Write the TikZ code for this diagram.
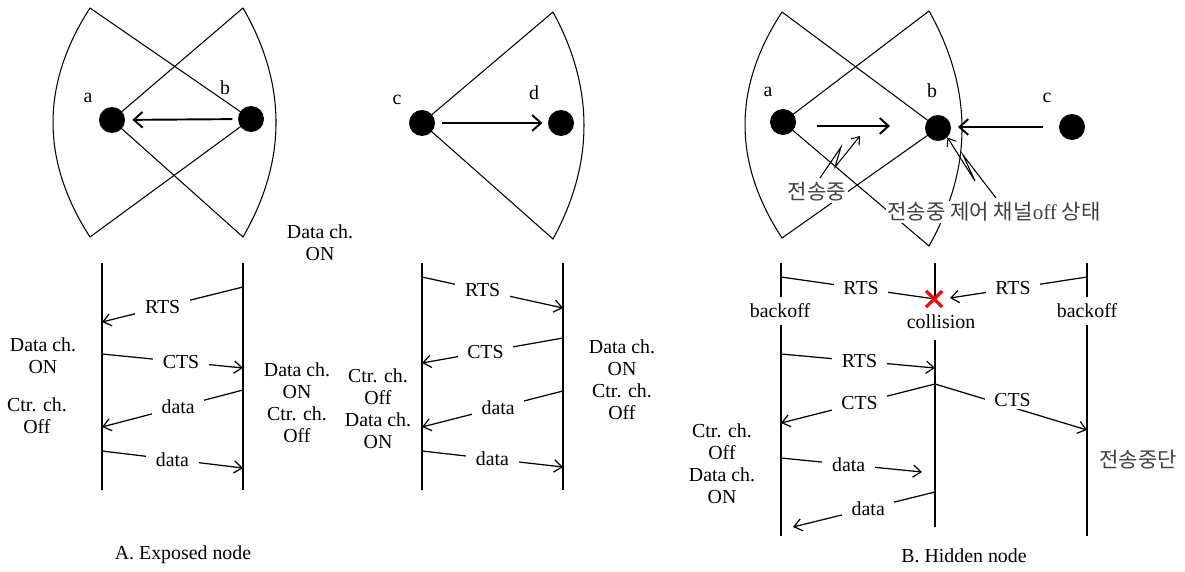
\documentclass[tikz,border=0pt]{standalone}
\usepackage{fontspec}
\setmainfont{Liberation Serif}
\newfontfamily\kr{Noto Sans CJK KR}
\usetikzlibrary{arrows.meta,shapes.misc}
\begin{document}
\begin{tikzpicture}[x=0.02cm,y=-0.02cm,
  every node/.style={font=\fontsize{11.3}{12.5}\selectfont},
  dot/.style={circle,fill=black,draw=none,minimum size=0.52cm,inner sep=0pt},
  sect/.style={line width=0.6pt},
  bigarrow/.style={line width=1.1pt,-{Straight Barb[length=5pt,width=9pt]}},
  msg/.style={line width=0.7pt,-{Straight Barb[length=4.5pt,width=7pt]}},
  plainmsg/.style={line width=0.7pt},
  bolt/.style={line width=0.6pt,-{Straight Barb[length=4pt,width=6pt]}},
  lbl/.style={fill=white,inner xsep=5.5pt,inner ysep=1pt},
  txt/.style={align=center,inner sep=0pt},
  krtxt/.style={font=\kr\fontsize{12}{14}\selectfont,text=black!75,inner sep=1pt},
  tl/.style={line width=0.8pt},
  xmark/.style={cross out,draw=red,line width=1.8pt,minimum size=0.26cm,inner sep=0pt}]
\useasboundingbox (0,0) rectangle (1185,571);

% ================= A : top =================
\coordinate (Aac) at (112,120);
\coordinate (Abc) at (251,119);
\coordinate (Ab1) at (90,8);  \coordinate (Ab2) at (90,237);
\coordinate (Aa1) at (243,8); \coordinate (Aa2) at (243,237);
\draw[sect] (Ab1) -- (Abc) -- (Ab2) .. controls (40.7,160.7) and (40.7,84.3) .. (Ab1);
\draw[sect] (Aa1) -- (Aac) -- (Aa2) .. controls (287,160.7) and (287,84.3) .. (Aa1);
\node[dot] (Aa) at (Aac) {};
\node[dot] (Ab) at (Abc) {};
\node[txt] (Aalab) at (88,98) {a};
\node[txt] (Ablab) at (225,88) {b};
\draw[bigarrow,shorten <=3pt,shorten >=4pt] (Ab) -- (Aa);

% ================= middle : top =================
\coordinate (Mcc) at (422,123);
\coordinate (Mdc) at (561,123);
\coordinate (Mc1) at (553,12); \coordinate (Mc2) at (553,239);
\draw[sect] (Mc1) -- (Mcc) -- (Mc2) .. controls (594.3,163.3) and (594.3,87.7) .. (Mc1);
\node[dot] (Mc) at (Mcc) {};
\node[dot] (Md) at (Mdc) {};
\node[txt] (Mclab) at (397,100) {c};
\node[txt] (Mdlab) at (534,93) {d};
\draw[bigarrow,shorten <=4pt,shorten >=3pt] (Mc) -- (Md);

\node[txt] (topdata) at (320,243) {Data ch.\\ON};

% ================= B : top =================
\coordinate (Bac) at (783,122);
\coordinate (Bbc) at (938,128);
\coordinate (Bcc) at (1072,127);
\coordinate (Ba1) at (929,11);  \coordinate (Ba2) at (929,246);
\coordinate (Bb1) at (782,12);  \coordinate (Bb2) at (782,238);
\draw[sect] (Ba1) -- (Bac) -- (Ba2) .. controls (973,167.7) and (973,89.3) .. (Ba1);
\draw[sect] (Bb1) -- (Bbc) -- (Bb2) .. controls (732.7,162.7) and (732.7,87.3) .. (Bb1);
\node[krtxt,fill=white] (Bt2) at (994,212) {전송중 제어 채널{\rmfamily off} 상태};
\node[krtxt,fill=white] (Bt1) at (817,192) {전송중};
\node[dot] (Ba) at (Bac) {};
\node[dot] (Bb) at (Bbc) {};
\node[dot] (Bc) at (Bcc) {};
\node[txt] (Balab) at (768,92) {a};
\node[txt] (Bblab) at (932,91) {b};
\node[txt] (Bclab) at (1047,98) {c};
\coordinate (Bab1) at (817,126); \coordinate (Bab2) at (890,126);
\coordinate (Bcb1) at (1043,127); \coordinate (Bcb2) at (958,127);
\draw[bigarrow] (Bab1) -- (Bab2);
\draw[bigarrow] (Bcb1) -- (Bcb2);
\coordinate (z1s) at (820,178); \coordinate (z1e) at (860,136);
\draw[bolt] (z1s) -- (841,147) -- (835,167) -- (z1e);
\coordinate (z2s) at (996,198);
\draw[bolt] (z2s) -- (963,155) -- (975,181) -- (Bb.south east);

% ================= A : timelines =================
\coordinate (A1t) at (102,263); \coordinate (A1b) at (102,490);
\coordinate (A2t) at (243,263); \coordinate (A2b) at (243,490);
\draw[tl] (A1t) -- (A1b);
\draw[tl] (A2t) -- (A2b);
\coordinate (Am1s) at (243,287); \coordinate (Am1e) at (102,322);
\coordinate (Am2s) at (102,354); \coordinate (Am2e) at (243,368);
\coordinate (Am3s) at (243,390); \coordinate (Am3e) at (102,427);
\coordinate (Am4s) at (102,451); \coordinate (Am4e) at (243,468);
\draw[msg] (Am1s) -- node[lbl,pos=0.57] (lA1) {RTS} (Am1e);
\draw[msg] (Am2s) -- node[lbl,pos=0.56] (lA2) {CTS} (Am2e);
\draw[msg] (Am3s) -- node[lbl,pos=0.46] (lA3) {data} (Am3e);
\draw[msg] (Am4s) -- node[lbl,pos=0.50] (lA4) {data} (Am4e);
\node[txt] (Aleft1) at (43,356) {Data ch.\\ON};
\node[txt] (Aleft2) at (37,416) {Ctr. ch.\\Off};
\node[txt] (Aright) at (297,403) {Data ch.\\ON\\Ctr. ch.\\Off};
\node[txt] (Acap) at (183,555) {A. Exposed node};

% ================= middle : timelines =================
\coordinate (M1t) at (422,263); \coordinate (M1b) at (422,490);
\coordinate (M2t) at (563,263); \coordinate (M2b) at (563,490);
\draw[tl] (M1t) -- (M1b);
\draw[tl] (M2t) -- (M2b);
\coordinate (Mm1s) at (422,277); \coordinate (Mm1e) at (563,308);
\coordinate (Mm2s) at (563,338); \coordinate (Mm2e) at (422,363);
\coordinate (Mm3s) at (563,391); \coordinate (Mm3e) at (422,427);
\coordinate (Mm4s) at (422,451); \coordinate (Mm4e) at (563,467);
\draw[msg] (Mm1s) -- node[lbl,pos=0.43] (lM1) {RTS} (Mm1e);
\draw[msg] (Mm2s) -- node[lbl,pos=0.55] (lM2) {CTS} (Mm2e);
\draw[msg] (Mm3s) -- node[lbl,pos=0.46] (lM3) {data} (Mm3e);
\draw[msg] (Mm4s) -- node[lbl,pos=0.50] (lM4) {data} (Mm4e);
\node[txt] (Mleft) at (378,409) {Ctr. ch.\\Off\\Data ch.\\ON};
\node[txt] (Mright) at (622,380) {Data ch.\\ON\\Ctr. ch.\\Off};

% ================= B : timelines =================
\coordinate (B1t) at (781,263); \coordinate (B1b) at (781,536);
\coordinate (B2t) at (935,263); \coordinate (B2m) at (935,299);
\coordinate (B2n) at (935,340); \coordinate (B2b) at (935,527);
\coordinate (B3t) at (1087,263); \coordinate (B3b) at (1087,536);
\draw[tl] (B1t) -- (B1b);
\draw[tl] (B2t) -- (B2m);
\draw[tl] (B2n) -- (B2b);
\draw[tl] (B3t) -- (B3b);
\node[lbl,inner ysep=4pt] (boff1) at (780,311) {backoff};
\node[lbl,inner ysep=4pt] (boff2) at (1087,311) {backoff};
\node[txt] (coll) at (941,322) {collision};
\coordinate (Bm1s) at (781,277);
\coordinate (Bm2s) at (1087,277); \coordinate (Bm2e) at (950,298);
\draw[plainmsg] (Bm1s) -- node[lbl,pos=0.52] (lB1) {RTS} (B2m);
\draw[msg] (Bm2s) -- node[lbl,pos=0.54] (lB2) {RTS} (Bm2e);
\node[xmark] (X) at (934,299) {};
\coordinate (Bm3s) at (781,354); \coordinate (Bm3e) at (935,368);
\coordinate (Bm4s) at (935,384); \coordinate (Bm4e) at (781,423);
\coordinate (Bm5e) at (1087,430);
\coordinate (Bm6s) at (781,458); \coordinate (Bm6e) at (922,472);
\coordinate (Bm7s) at (935,492); \coordinate (Bm7e) at (793,527);
\draw[msg] (Bm3s) -- node[lbl,pos=0.51] (lB3) {RTS} (Bm3e);
\draw[msg] (Bm4s) -- node[lbl,pos=0.49] (lB4) {CTS} (Bm4e);
\draw[msg] (Bm4s) -- node[lbl,pos=0.51,yshift=4pt] (lB5) {CTS} (Bm5e);
\draw[msg] (Bm6s) -- node[lbl,pos=0.48] (lB6) {data} (Bm6e);
\draw[msg] (Bm7s) -- node[lbl,pos=0.47] (lB7) {data} (Bm7e);
\node[txt] (Bleft) at (722,464) {Ctr. ch.\\Off\\Data ch.\\ON};
\node[krtxt] (stop) at (1138,460) {전송중단};
\node[txt] (Bcap) at (964,556) {B. Hidden node};
\end{tikzpicture}
\end{document}
